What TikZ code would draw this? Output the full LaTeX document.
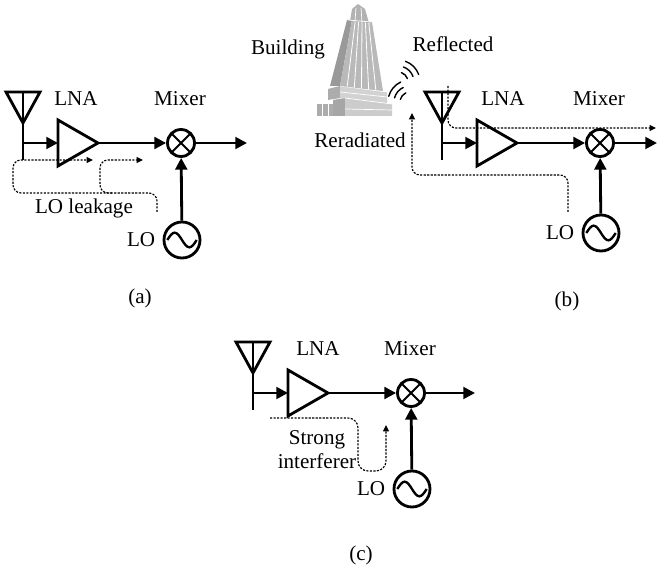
\documentclass[tikz,border=0pt]{standalone}
\usepackage{fontspec}
\setmainfont{Liberation Serif}
\usetikzlibrary{arrows.meta,positioning,calc}

\tikzset{
  wire/.style={line width=2.4pt},
  sig/.style={wire,-{Triangle[length=10pt,width=10pt]}},
  leak/.style={
    line width=1pt,
    dash pattern=on 1.8pt off 1.2pt,
    rounded corners=0.24cm,
    -{Triangle[length=5.5pt,width=5pt]},
  },
  wave/.style={line width=1.2pt,line cap=round},
  mixer/.style={
    draw,wire,circle,minimum size=0.81cm,inner sep=0pt,
    path picture={
      \draw[line width=1.6pt]
        (path picture bounding box.north west) -- (path picture bounding box.south east)
        (path picture bounding box.north east) -- (path picture bounding box.south west);
    },
  },
  osc/.style={
    draw,wire,circle,minimum size=1.08cm,inner sep=0pt,
    path picture={
      \draw[line width=2pt]
        ([xshift=-0.44cm]path picture bounding box.center)
        sin ++(0.22cm,0.22cm) cos ++(0.22cm,-0.22cm)
        sin ++(0.22cm,-0.22cm) cos ++(0.22cm,0.22cm);
    },
  },
  antenna/.pic={
    \draw[wire,line join=miter] (-17,-51) -- (17,-51) -- (0,-20) -- cycle;
    \draw[wire] (0,-51) -- (0,17);
    \coordinate (-feed) at (0,0);
  },
  amp/.pic={
    \draw[wire,line join=miter] (0,-23) -- (40,0) -- (0,23) -- cycle;
    \coordinate (-in) at (0,0);
    \coordinate (-out) at (40,0);
  },
}

\begin{document}
\begin{tikzpicture}[x=0.03cm,y=-0.03cm,font=\fontsize{18}{18}\selectfont]
  \useasboundingbox (0,0) rectangle (658,570);

  % receiver chains: antenna, LNA, mixer and LO
  \foreach \p/\x/\y/\lo/\out/\lx in
    {a/23/143/97/224/53, b/442/143/90/215/61, c/253/393/96/222/65}
  {
    \pic (ant\p) at (\x,\y) {antenna};
    \pic (lna\p) at (\x+35,\y) {amp};
    \node[mixer] (mix\p) at (\x+158,\y) {};
    \node[osc] (lo\p) at (\x+159,\y+\lo) {};
    \coordinate (out\p) at (\x+\out,\y);
    \draw[sig] (ant\p-feed) -- (lna\p-in);
    \draw[sig] (lna\p-out) -- (mix\p);
    \draw[sig] (mix\p) -- (out\p);
    \draw[sig] (lo\p) -- (mix\p);
    \node (lnalbl\p) at (\x+\lx,\y-44) {LNA};
    \node (mixlbl\p) at (\x+157,\y-44) {Mixer};
    \node[left=0.1cm of lo\p] (lolbl\p) {LO};
  }

  % (a) LO leakage
  \coordinate (leakfrom) at (157,212);
  \coordinate (leakant) at (93,160);
  \coordinate (leaklna) at (143,160);
  \draw[leak] (leakfrom) -- (157,193) -- (13,193) -- (13,160) -- (leakant);
  \draw[leak] (112,193) -- (100,193) -- (100,160) -- (leaklna);
  \node (leaklbl) at (84,208) {LO leakage};
  \node (capa) at (140,298) {(a)};

  % (b) building
  \fill[gray!65] (317,104) rectangle (334,116);
  \draw[white,line width=0.6pt] (322,104) -- (322,116) (328,104) -- (328,116);
  \fill[gray!70] (333,100) -- (345,98) -- (345,116) -- (333,116) -- cycle;
  \fill[gray!40] (345,98) -- (392,104) -- (392,116) -- (345,116) -- cycle;
  \fill[gray!65] (328,89) -- (340,86) -- (340,98) -- (328,100) -- cycle;
  \fill[gray!35] (340,86) -- (387,92) -- (387,103) -- (340,98) -- cycle;
  \draw[white,line width=0.6pt]
    (345,98) -- (392,104) (345,109) -- (392,110)
    (340,86) -- (387,92) (340,92) -- (387,97);
  \fill[gray!80] (330,86) -- (347,20) -- (352,20) -- (340,86) -- cycle;
  \fill[gray!55] (340,86) -- (352,20) -- (372,22) -- (383,91) -- cycle;
  \foreach \k in {1,...,5}
    \draw[white,line width=0.7pt]
      ($(340,86)!\k/6!(383,91)$) -- ($(352,20)!\k/6!(372,22)$);
  \fill[gray!60] (350,21) -- (352,9) -- (358,4) -- (365,9) -- (369,23) -- cycle;
  \draw[white,line width=0.6pt] (356,8) -- (355,21) (361,8) -- (362,22)
    (348,20) -- (371,22);

  % (b) waves off the building
  \foreach \r in {3,4.8,6.6}
  {
    \draw[wave] ([shift={(20:\r mm)}]398,82) arc[start angle=20,end angle=70,radius=\r mm];
    \draw[wave] ([shift={(115:\r mm)}]410,102) arc[start angle=115,end angle=165,radius=\r mm];
  }
  \node (bldlbl) at (288,49) {Building};
  \node (refllbl) at (453,44) {Reflected};
  \node (rerlbl) at (360,140) {Reradiated};

  % (b) reflected and reradiated paths
  \coordinate (reflfrom) at (448,86);
  \coordinate (reflto) at (656,128);
  \coordinate (rerfrom) at (568,212);
  \coordinate (rerto) at (412,113);
  \draw[leak] (reflfrom) -- (448,128) -- (reflto);
  \draw[leak] (rerfrom) -- (568,175) -- (412,175) -- (rerto);
  \node (capb) at (567,301) {(b)};

  % (c) strong interferer
  \coordinate (intfrom) at (270,418);
  \coordinate (intto) at (386,425);
  \draw[leak,rounded corners=0.3cm]
    (intfrom) -- (358,418) -- (358,471) -- (386,471) -- (intto);
  \node[align=center] (intlbl) at (317,450) {Strong\\[2.4pt]interferer};
  \node (capc) at (361,555) {(c)};
\end{tikzpicture}
\end{document}
